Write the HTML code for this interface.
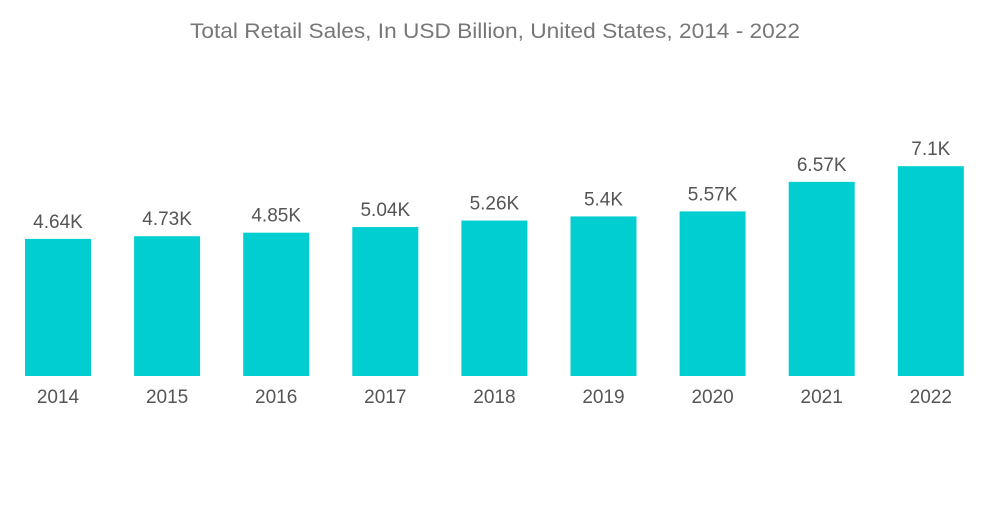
<!DOCTYPE html>
<html><head><meta charset="utf-8"><style>
body{margin:0;background:#fff;font-family:"Liberation Sans",sans-serif}
svg text{font-family:"Liberation Sans",sans-serif}
</style></head><body>
<svg width="1000" height="504">
<text x="190" y="38" font-size="21" fill="#777" textLength="610" lengthAdjust="spacingAndGlyphs">Total Retail Sales, In USD Billion, United States, 2014 - 2022</text>
<g id="bars"></g>
</svg>
<script>
const categories=["2014","2015","2016","2017","2018","2019","2020","2021","2022"];
const values=[4.64,4.73,4.85,5.04,5.26,5.4,5.57,6.57,7.1];
const valueLabels=["4.64K","4.73K","4.85K","5.04K","5.26K","5.4K","5.57K","6.57K","7.1K"];
const base=376, k=29.55, x0=25, pitch=109.1, bw=66;
const y=v=>base-v*k;
const xs=i=>x0+i*pitch;
const g=document.getElementById('bars');
const ns='http://www.w3.org/2000/svg';
categories.forEach((c,i)=>{
  const r=document.createElementNS(ns,'rect');
  r.setAttribute('x',xs(i));r.setAttribute('y',y(values[i]));
  r.setAttribute('width',bw);r.setAttribute('height',base-y(values[i]));
  r.setAttribute('fill','#00ced1');
  
  
  g.appendChild(r);
  const t=document.createElementNS(ns,'text');
  t.setAttribute('x',xs(i)+bw/2);t.setAttribute('y',y(values[i])-11);
  t.setAttribute('text-anchor','middle');t.setAttribute('font-size','19');t.setAttribute('fill','#555');
  t.textContent=valueLabels[i];
  
  
  g.appendChild(t);
  const l=document.createElementNS(ns,'text');
  l.setAttribute('x',xs(i)+bw/2);l.setAttribute('y',403);
  l.setAttribute('text-anchor','middle');l.setAttribute('font-size','19');l.setAttribute('fill','#555');
  l.textContent=c;
  
  
  g.appendChild(l);
});
</script>
</body></html>
